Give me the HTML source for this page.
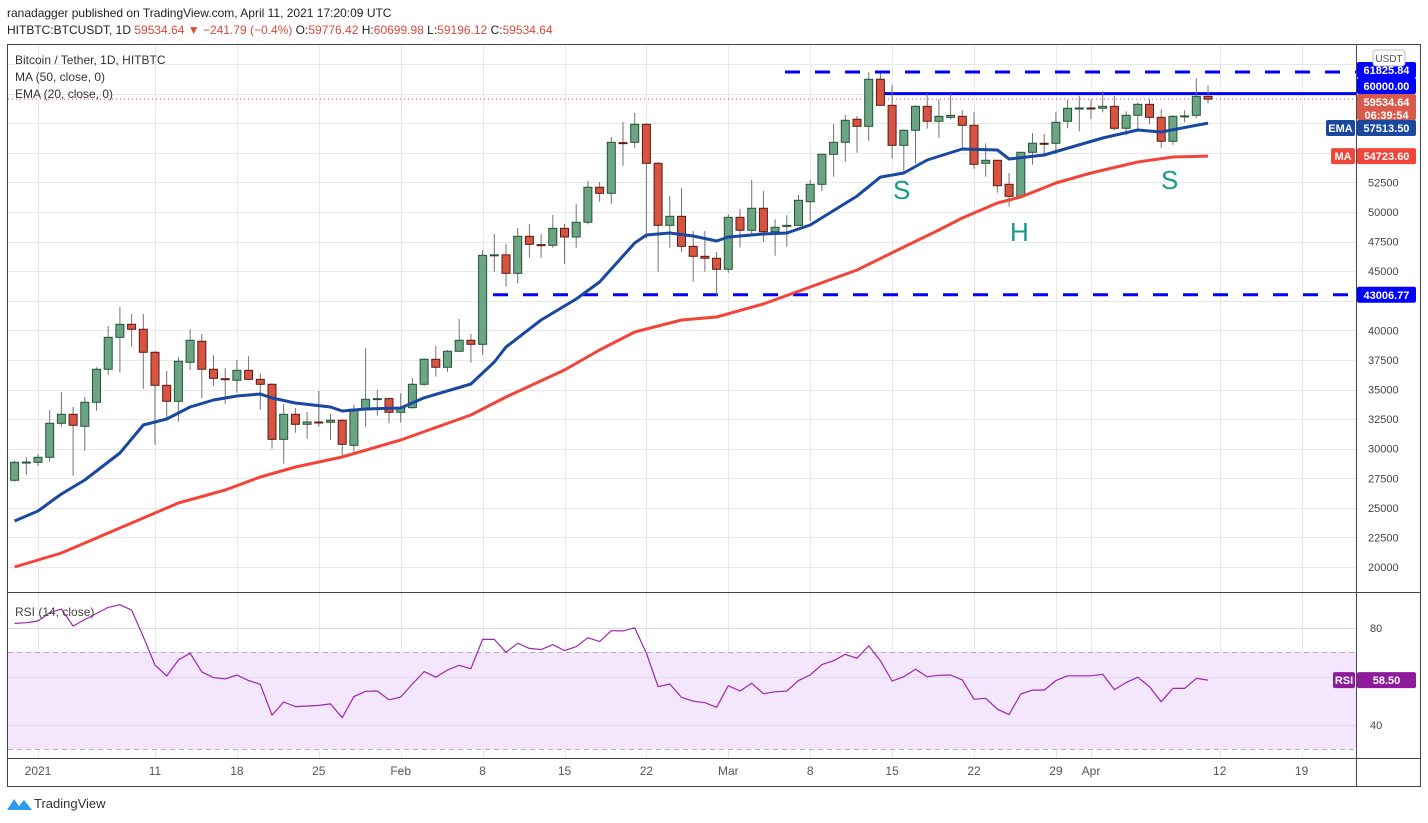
<!DOCTYPE html>
<html><head><meta charset="utf-8">
<style>
html,body{margin:0;padding:0;background:#fff;}
svg{display:block;font-family:"Liberation Sans",Arial,sans-serif;}
</style></head>
<body>
<svg id="chart" width="1428" height="823" viewBox="0 0 1428 823" xmlns="http://www.w3.org/2000/svg">
<rect width="1428" height="823" fill="#fff"/>
<text x="7" y="17" font-size="12" fill="#222">ranadagger published on TradingView.com, April 11, 2021 17:20:09 UTC</text>
<text x="7" y="34" font-size="12" fill="#222">HITBTC:BTCUSDT, 1D <tspan fill="#d94a3c">59534.64 ▼ −241.79 (−0.4%)</tspan> O:<tspan fill="#d94a3c">59776.42</tspan> H:<tspan fill="#d94a3c">60699.98</tspan> L:<tspan fill="#d94a3c">59196.12</tspan> C:<tspan fill="#d94a3c">59534.64</tspan></text>
<g id="grid"></g>
<rect x="8" y="652" width="1348" height="97" fill="#f3e6fd"/>
<g id="rsigrid"></g>
<g id="levels"></g>
<g id="candles"></g>
<g id="lines"></g>
<g id="frame" fill="none" stroke="#444" stroke-width="1">
<rect x="7.5" y="44.5" width="1413" height="742"/>
<line x1="1356.5" y1="44" x2="1356.5" y2="787"/>
<line x1="7" y1="592.5" x2="1421" y2="592.5"/>
<line x1="7" y1="758.5" x2="1421" y2="758.5"/>
</g>
<g id="axis"></g>
<text x="15" y="64" font-size="12" fill="#333">Bitcoin / Tether, 1D, HITBTC</text>
<text x="15" y="81" font-size="12" fill="#333">MA (50, close, 0)</text>
<text x="15" y="98" font-size="12" fill="#333">EMA (20, close, 0)</text>
<text x="15" y="616" font-size="12" fill="#444">RSI (14, close)</text>
<text x="893" y="199" font-size="26" fill="#149a8a">S</text>
<text x="1010" y="241" font-size="26" fill="#149a8a">H</text>
<text x="1161" y="189" font-size="26" fill="#149a8a">S</text>
<g>
<path d="M7 810 L14 799 L19 806 L24 800 L32 810 Z" fill="#2e9bf0"/>
<text x="34" y="808" font-size="13" fill="#333">TradingView</text>
</g>
</svg>
<script>
const opens=[27330,28850,28850,29270,32145,32905,31890,33920,36710,39410,40510,40090,38145,35355,34005,37300,39075,36710,35914,35780,36620,35860,35440,30790,32905,32060,32255,32230,32400,30285,33330,34175,34230,33075,33465,35440,37555,36880,38230,39160,38820,46340,46380,44820,47945,47240,47185,48620,47890,49130,52090,51580,55860,55890,57410,54115,48875,49635,47100,46255,46090,45160,49550,48455,50315,48335,48840,48870,50870,52340,54875,55890,57835,57240,61215,59015,55635,56905,58930,57665,58000,58085,57325,54115,54370,52340,51325,55045,55805,55805,57665,58765,58790,58765,58930,57075,58170,59100,58000,55975,58085,58170,59776];
const highs=[28960,29272,29550,33270,34790,33520,34370,36880,40370,41970,41380,41380,38230,36565,37720,40090,39690,37890,36790,37490,37810,36370,35525,33775,33440,33100,34875,32930,32480,33690,38480,34960,34340,34680,35975,37640,38680,38340,40960,39690,46790,48140,47295,48650,48985,48140,49745,48985,50675,52620,52535,56340,57605,58365,57495,54225,51350,52030,48395,48395,46620,49830,50255,52705,51775,49385,49720,51440,52705,54900,57435,58200,58110,61805,61720,60730,56985,59015,60030,59525,60030,58595,58425,55805,54370,53295,55045,56675,56590,58425,59465,59830,59525,60200,59800,58510,59270,59525,58680,58170,58595,61300,60700];
const lows=[27210,27800,28560,28900,31860,27720,29830,33210,36250,36420,38620,35070,30340,32400,32280,36650,34280,35320,33800,34730,35780,33290,30000,28730,31350,30845,31860,30735,29190,29745,31860,32790,32145,32195,33380,35320,36085,36505,38230,37265,37940,44955,43690,43975,46140,46140,46985,45630,46985,48960,50870,50700,53910,55435,47780,44955,46985,46645,44110,44955,42925,44870,46985,48055,47490,46305,47070,48870,49240,51775,52985,54250,55010,56025,59015,54505,53270,54115,57040,56280,57835,55385,53660,52985,51630,50450,51325,54000,54675,54875,57075,56820,57885,58425,56905,56480,56820,57410,55435,55685,57580,57920,59196];
const closes=[28850,28870,29270,32145,32905,31975,33920,36710,39410,40510,40090,38145,35355,34005,37385,39160,36710,35950,35900,36620,35860,35440,30790,32905,32060,32255,32230,32400,30370,33330,34175,34230,33075,33465,35440,37555,36880,38230,39160,38820,46340,46380,44820,47945,47270,47200,48620,47890,49130,52090,51580,55890,55830,57410,54115,48875,49635,47100,46255,46090,45160,49550,48455,50315,48335,48705,48870,50990,52340,54875,55890,57750,57240,61215,59015,55635,56905,58930,57665,58085,58170,57325,54030,54370,52220,51325,55045,55805,55780,57580,58765,58790,58760,58930,57075,58170,59100,58000,55975,58085,58120,59775,59535];
const rsiValues=[81.9,82.2,82.9,86.3,87.8,80.8,83.5,86.0,88.5,89.6,87.4,76.4,64.7,60.2,66.8,69.6,61.9,59.5,59.0,60.6,58.3,56.8,44.1,49.5,47.6,47.8,48.1,48.7,43.0,51.7,53.9,54.0,50.4,51.5,56.9,62.0,59.7,62.7,64.6,63.2,75.3,75.3,70.0,73.7,71.6,71.1,73.1,70.7,72.3,76.0,74.4,78.9,78.8,80.1,69.6,55.8,56.9,51.4,49.8,49.2,47.3,56.2,54.0,57.2,52.9,53.7,54.0,58.3,60.6,64.9,66.5,69.1,67.5,72.6,66.5,58.1,59.9,63.0,59.9,60.5,60.6,58.6,50.6,51.0,46.5,44.3,52.8,54.4,54.4,58.3,60.3,60.3,60.3,60.9,54.6,57.5,59.7,55.8,49.6,55.1,55.1,59.2,58.5];
const emaDays=[-2,0,2,4,7,9,11,13,15,17,19,20,22,25,26,28,31,33,37,39,40,43,46,48,51,52,54,56,58,59,62,64,66,70,72,74,76,79,82,83,86,91,94,96,100];
const emaValues=[23890,24735,26170,27354,29635,32000,32510,33520,34114,34452,34620,34280,33860,33520,33185,33354,33438,34300,35466,37325,38590,40875,42650,44085,47380,48055,48225,47970,47550,47890,48140,48225,48900,51340,52950,53295,54395,55325,55240,54480,54820,56250,56930,56760,57513.5];
const maDays=[-2,2,5,9,12,16,19,22,26,31,37,40,45,48,51,55,58,62,70,74,77,79,82,84,87,90,94,97,100];
const maValues=[20000,21185,22450,24140,25410,26510,27610,28450,29300,30735,32850,34370,36650,38340,39860,40875,41130,42225,45100,47040,48480,49490,50760,51270,52450,53295,54225,54650,54723.6];
const priceTicks=[20000,22500,25000,27500,30000,32500,35000,37500,40000,45000,47500,50000,52500];
const dateTickDays=[0,10,17,24,31,38,45,52,59,66,73,80,87,90,101,108];
const dateTickLabels=["2021","11","18","25","Feb","8","15","22","Mar","8","15","22","29","Apr","12","19"];
const rsiTicks=[80,40];
const firstDay=-2;
const resistanceHigh=61825.84, neckline=60000, support=43006.77, lastPrice=59534.64, emaLast=57513.50, maLast=54723.60, rsiLast=58.50;

const NS="http://www.w3.org/2000/svg";
const xD=d=>38+d*11.7;
const yP=p=>212-(p-50000)*0.011834;
const yR=v=>628+(80-v)*2.425;
function mk(tag,attrs,parent){const e=document.createElementNS(NS,tag);for(const k in attrs)e.setAttribute(k,attrs[k]);parent.appendChild(e);return e;}
const $=id=>document.getElementById(id);

priceTicks.concat([42500,55000,57500,60000,62500]).forEach(p=>{
  const y=Math.round(yP(p))+0.5;
  const l=mk('line',{x1:8,x2:1356,y1:y,y2:y,stroke:'#e8e8e8'},$('grid'));
  
  
});
dateTickDays.forEach(d=>{
  const x=Math.round(xD(d))+0.5;
  const l=mk('line',{x1:x,x2:x,y1:45,y2:758,stroke:'#e8e8e8'},$('grid'));
  
  
});
[80,60,40].forEach(v=>{
  const y=Math.round(yR(v))+0.5;
  const l=mk('line',{x1:8,x2:1356,y1:y,y2:y,stroke:'#e3d6ec'},$('rsigrid'));
  
  
});
[70,30].forEach(v=>{
  const y=Math.round(yR(v))+0.5;
  const l=mk('line',{x1:8,x2:1356,y1:y,y2:y,stroke:'#b9a9c4','stroke-dasharray':'5,4'},$('rsigrid'));
  
  
});

const lv=$('levels');
let e;
e=mk('line',{x1:785,x2:1356,y1:yP(resistanceHigh),y2:yP(resistanceHigh),stroke:'#0000ff','stroke-width':3,'stroke-dasharray':'15,15'},lv);


e=mk('line',{x1:880,x2:1356,y1:yP(neckline),y2:yP(neckline),stroke:'#0000ff','stroke-width':3},lv);


e=mk('line',{x1:493,x2:1356,y1:yP(support),y2:yP(support),stroke:'#0000ff','stroke-width':3,'stroke-dasharray':'15,15'},lv);


e=mk('line',{x1:8,x2:1356,y1:yP(lastPrice),y2:yP(lastPrice),stroke:'#d94a3c','stroke-width':1,'stroke-dasharray':'1,3'},lv);



const cg=$('candles');
closes.forEach((c,i)=>{
  const o=opens[i],h=highs[i],l=lows[i];
  const x=xD(firstDay+i);
  const up=c>=o;
  const w=mk('line',{x1:x,x2:x,y1:yP(h),y2:yP(l),stroke:'#737375','stroke-width':1},cg);
  
  
  const top=yP(Math.max(o,c)),bot=yP(Math.min(o,c));
  const b=mk('rect',{x:x-4,y:top,width:8,height:Math.max(1,bot-top),fill:up?'#6ba583':'#d75442',stroke:up?'#225437':'#5b1a13','stroke-width':1},cg);
  
  
});

function poly(days,vals,fy,color,w,name){
  const pts=days.map((d,i)=>xD(d).toFixed(1)+','+fy(vals[i]).toFixed(1)).join(' ');
  const p=mk('polyline',{points:pts,fill:'none',stroke:color,'stroke-width':w,'stroke-linejoin':'round'},$('lines'));
  
  
}
poly(maDays,maValues,yP,'#f2453a',3,'ma50-line');
poly(emaDays,emaValues,yP,'#1848a0',3,'ema20-line');
poly(rsiValues.map((v,i)=>firstDay+i),rsiValues,yR,'#9c27b0',1.2,'rsi-line');

const ax=$('axis');
priceTicks.forEach(p=>{
  const t=mk('text',{x:1368,y:yP(p)+4,'font-size':11,fill:'#444'},ax);
  t.textContent=p;
  
  
});
dateTickDays.forEach((d,i)=>{
  const t=mk('text',{x:xD(d),y:775,'font-size':12,fill:'#555','text-anchor':'middle'},ax);
  t.textContent=dateTickLabels[i];
  
  
});
rsiTicks.forEach(v=>{
  const t=mk('text',{x:1370,y:yR(v)+4,'font-size':11,fill:'#444'},ax);
  t.textContent=v;
  
  
});
function tag(x,y,w,h,fill,txt,name,fs){
  const g=mk('g',{},ax);
  
  
  mk('rect',{x:x,y:y,width:w,height:h,fill:fill,rx:2},g);
  const lines=txt.split('\n');
  lines.forEach((s,k)=>{const t=mk('text',{x:x+w/2,y:y+12+k*13,'font-size':fs||11,fill:'#fff','text-anchor':'middle','font-weight':'bold'},g);t.textContent=s;});
}
tag(1357,62,59,16,'#0000ff',resistanceHigh.toFixed(2),'resistance-price-tag');
tag(1357,78,59,16,'#0000ff',neckline.toFixed(2),'neckline-price-tag');
tag(1357,94,59,26,'#d9594a',lastPrice.toFixed(2)+'\n06:39:54','last-price-tag');
tag(1357,120,59,16,'#1848a0',emaLast.toFixed(2),'ema-price-tag');
tag(1326,120,29,16,'#1848a0','EMA','ema-name-tag');
tag(1357,yP(maLast)-8,59,16,'#f2453a',maLast.toFixed(2),'ma-price-tag');
tag(1331,yP(maLast)-8,24,16,'#f2453a','MA','ma-name-tag');
tag(1357,yP(support)-8,59,16,'#0000ff',support.toFixed(2),'support-price-tag');
tag(1357,yR(rsiLast)-8,59,16,'#8e1b9c',rsiLast.toFixed(2),'rsi-value-tag');
tag(1333,yR(rsiLast)-8,22,16,'#8e1b9c','RSI','rsi-name-tag');
const u=mk('g',{},ax);


mk('rect',{x:1373,y:50,width:32,height:16,fill:'#fff',stroke:'#bbb',rx:3},u);
const ut=mk('text',{x:1389,y:62,'font-size':10,fill:'#555','text-anchor':'middle'},u);ut.textContent='USDT';
</script>
</body></html>
